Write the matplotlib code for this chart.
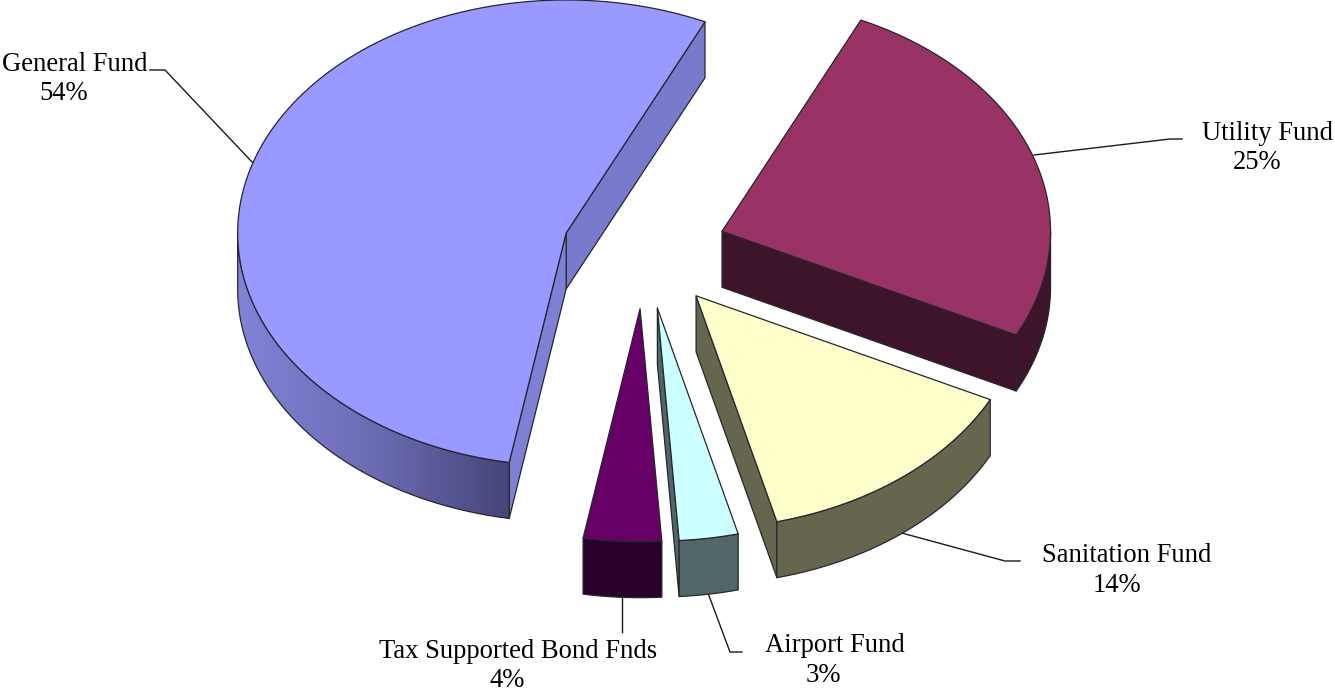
import numpy as np
import matplotlib
matplotlib.use("Agg")
import matplotlib.pyplot as plt
from matplotlib.patches import Polygon
from matplotlib.colors import LinearSegmentedColormap

# Data
names = ["Utility Fund", "Sanitation Fund", "Airport Fund", "Tax Supported Bond Fnds", "General Fund"]
label_pct = [25, 14, 3, 4, 54]
shares = [25.4, 13.7, 2.9, 3.83, 54.17]   # slice sizes

# Styles
top_colors = ["#993366", "#FFFFCC", "#CCFFFF", "#660066", "#9999FF"]
side_colors = ["#3D1429", "#66664F", "#516666", "#29002A", "#7A7ACC"]
start_face_colors = ["#3D1429", "#66664F", "#516666", "#29002A", "#7F7FD4"]
draw_order = [4, 0, 1, 2, 3]
name_xy = [(1268, 133), (1127, 555), (835, 645), (518, 652), (75, 64)]
pct_xy = [(1257, 162), (1117, 585), (823, 676), (507, 680.5), (64, 93)]
leaders = [[(1034, 155), (1170, 139), (1182, 139)],
           [(898, 532), (1005, 561), (1020, 561)],
           [(708, 593), (730, 652), (742, 652)],
           [(622, 596), (622, 632)],
           [(253, 163), (165, 70), (150, 70)]]

CX, CY, RX, RY, DEPTH, EXPLODE, START = 644.5, 250.5, 328.5, 233, 56, 0.25, 25.0
EDGE = "#26262e"
LW = 0.9

fig = plt.figure(figsize=(13.35, 6.91), dpi=100)
ax = fig.add_axes([0, 0, 1, 1])
ax.axis("off")


def rim(ax0, ay0, a1, a2, dy=0.0, n=240):
    t = np.radians(np.linspace(a1, a2, n))
    return np.column_stack([ax0 + RX * np.sin(t), ay0 - RY * np.cos(t) + dy])


def poly(pts, fc, z):
    p = Polygon(pts, closed=True, fc=fc, ec=EDGE, lw=LW, joinstyle="round", zorder=z)
    ax.add_patch(p)
    return p


def faces_viewer(apex, rim_pt, inner_pt):
    """A cut face shows when its outward normal points down the picture."""
    d = rim_pt - apex
    out = np.array([-d[1], d[0]])
    if out @ (inner_pt - apex) > 0:
        out = -out
    return out[1] > 0


gradient = LinearSegmentedColormap.from_list("g", ["#8282D8", "#6C6CB4", "#45457A"])

angles = START + np.concatenate([[0], np.cumsum(shares)]) * 3.6
for z, i in enumerate(draw_order):
    a1, a2 = angles[i], angles[i + 1]
    mid = np.radians((a1 + a2) / 2)
    ox = CX + EXPLODE * RX * np.sin(mid)
    oy = CY - EXPLODE * RY * np.cos(mid)
    base = z * 10 + 2
    apex = np.array([ox, oy])
    low = np.array([0, DEPTH])
    p1 = rim(ox, oy, a1, a1, n=1)[0]
    p2 = rim(ox, oy, a2, a2, n=1)[0]

    if faces_viewer(apex, p2, rim(ox, oy, a2 - 1, a2 - 1, n=1)[0]):
        poly([apex, p2, p2 + low, apex + low], side_colors[i], base)
    if faces_viewer(apex, p1, rim(ox, oy, a1 + 1, a1 + 1, n=1)[0]):
        poly([apex, p1, p1 + low, apex + low], start_face_colors[i], base + 1)

    # outer wall: visible for the lower half of the ellipse (90..270 deg)
    for k in (-1, 0, 1):
        lo = max(a1, 90 + 360 * k)
        hi = min(a2, 270 + 360 * k)
        if lo < hi:
            up = rim(ox, oy, lo, hi)
            dn = rim(ox, oy, lo, hi, DEPTH)
            pts = np.vstack([up, dn[::-1]])
            if i == 4:
                patch = poly(pts, "none", base + 3)
                xs = np.linspace(0, 1, 256)[None, :]
                im = ax.imshow(xs, cmap=gradient, aspect="auto", zorder=base + 2,
                               extent=[pts[:, 0].min(), pts[:, 0].max(),
                                       pts[:, 1].max(), pts[:, 1].min()])
                im.set_clip_path(patch)
            else:
                poly(pts, side_colors[i], base + 3)

    # top face
    top = np.vstack([[apex], rim(ox, oy, a1, a2)])
    poly(top, top_colors[i], base + 5)

ax.set_xlim(0, 1335)
ax.set_ylim(691, 0)

for pts in leaders:
    xy = np.array(pts)
    ax.plot(xy[:, 0], xy[:, 1], color="#1a1a1a", lw=1.0, zorder=1, solid_joinstyle="miter")

for name, pct, nxy, pxy in zip(names, label_pct, name_xy, pct_xy):
    ax.text(nxy[0], nxy[1], name, ha="center", va="center", family="Liberation Serif",
            fontsize=19.2, color="black", zorder=100)
    ax.text(pxy[0], pxy[1], f"{pct}%", ha="center", va="center", family="Liberation Serif",
            fontsize=19.2, color="black", zorder=100)

fig.savefig("out.png", dpi=100, facecolor="white")
